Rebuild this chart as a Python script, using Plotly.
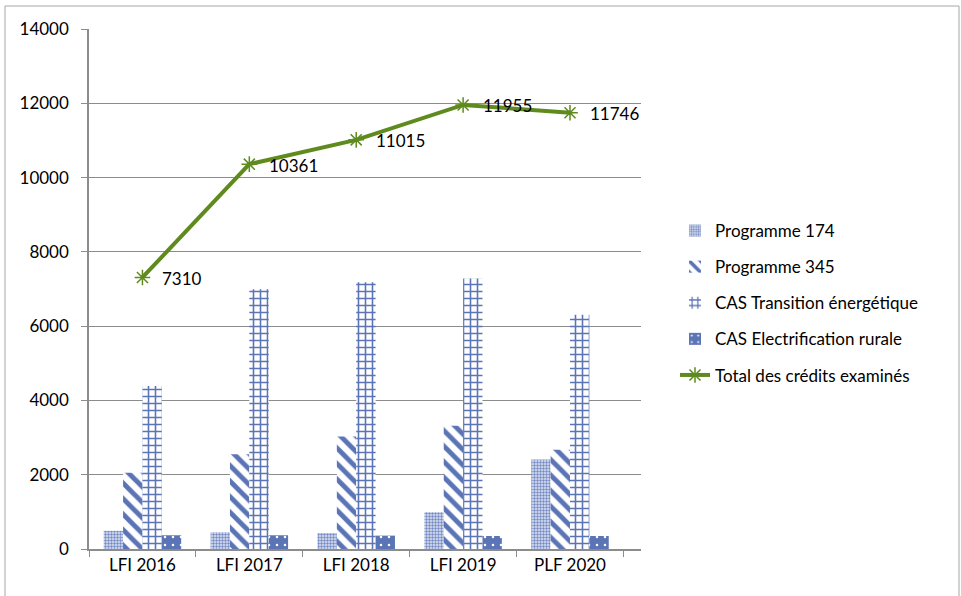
import plotly.graph_objects as go

categories = ["LFI 2016", "LFI 2017", "LFI 2018", "LFI 2019", "PLF 2020"]
prog174 = [490, 450, 430, 990, 2410]
prog345 = [2050, 2550, 3030, 3320, 2670]
cas_te = [4390, 6990, 7180, 7280, 6310]
cas_er = [370, 370, 360, 350, 350]
total = [7310, 10361, 11015, 11955, 11746]
yticks = [0, 2000, 4000, 6000, 8000, 10000, 12000, 14000]

BLUE = "#5B74B6"
GREEN = "#5E8A1E"
FONT = "Lato"

fig = go.Figure()
fig.add_bar(name="Programme 174", x=categories, y=prog174,
            marker=dict(color="white", line=dict(width=0),
                        pattern=dict(shape=".", fgcolor="#7489C4", bgcolor="#E1E6F3",
                                     size=3, solidity=0.5, fgopacity=1, fillmode="overlay")))
fig.add_bar(name="Programme 345", x=categories, y=prog345,
            marker=dict(color="white", line=dict(width=0),
                        pattern=dict(shape="\\", fgcolor=BLUE, bgcolor="white",
                                     size=11, solidity=0.45, fgopacity=1, fillmode="overlay")))
fig.add_bar(name="CAS Transition énergétique", x=categories, y=cas_te,
            marker=dict(color="white", line=dict(width=0),
                        pattern=dict(shape="+", fgcolor=BLUE, bgcolor="white",
                                     size=7, solidity=0.4, fgopacity=1, fillmode="overlay")))
fig.add_bar(name="CAS Electrification rurale", x=categories, y=cas_er,
            marker=dict(color=BLUE, line=dict(width=0),
                        pattern=dict(shape=".", fgcolor="white", bgcolor=BLUE,
                                     size=8, solidity=0.08, fgopacity=1, fillmode="overlay")))
fig.add_scatter(name="Total des crédits examinés", x=categories, y=total,
                mode="lines+markers",
                line=dict(color=GREEN, width=4),
                marker=dict(symbol="asterisk-open", size=13, color=GREEN,
                            line=dict(color=GREEN, width=1.5)))

for c, v in zip(categories, total):
    fig.add_annotation(x=c, y=v, text=str(v), showarrow=False, xanchor="left",
                       xshift=18, yshift=-1, font=dict(family=FONT, size=17, color="black"))

W, H = 961, 596
# plot area in screen pixels: x 89..641, y 29..549
L, T = 89, 29
R = W - 641
B = H - 549
pw, ph = W - L - R, H - T - B

def px(xs):
    return (xs - L) / pw

def py(ys):
    return (H - B - ys) / ph

fig.add_shape(type="rect", xref="paper", yref="paper",
              x0=px(5), x1=px(959), y0=py(600), y1=py(6),
              line=dict(color="#A6A6A6", width=1), layer="below")

fig.update_layout(
    width=W, height=H, margin=dict(l=L, r=R, t=T, b=B),
    paper_bgcolor="white", plot_bgcolor="white",
    barmode="group", bargap=0.275, bargroupgap=0,
    font=dict(family=FONT, size=17, color="black"),
    showlegend=True,
    legend=dict(x=px(675), y=py(213), xanchor="left", yanchor="top",
                font=dict(family=FONT, size=17, color="black"),
                tracegroupgap=11, itemwidth=30, bgcolor="rgba(0,0,0,0)"),
)
for i, tr in enumerate(fig.data):
    tr.legendgroup = f"g{i}"

fig.update_xaxes(type="category", showline=True, linecolor="#8C8C8C", linewidth=1.5,
                 ticks="outside", tickson="boundaries", ticklen=6, tickcolor="#8C8C8C",
                 showgrid=False, tickfont=dict(family=FONT, size=17))
fig.update_yaxes(range=[0, 14000], tickvals=yticks, tickformat="d", showline=True,
                 linecolor="#8C8C8C", linewidth=1.5, ticks="outside", ticklen=6,
                 tickcolor="#8C8C8C", showgrid=True, gridcolor="#8C8C8C", gridwidth=1,
                 zeroline=False, ticklabelstandoff=9, tickfont=dict(family=FONT, size=17))

fig.write_html("out.html", config={"displayModeBar": False},
               post_script="document.body.style.margin='0';")
